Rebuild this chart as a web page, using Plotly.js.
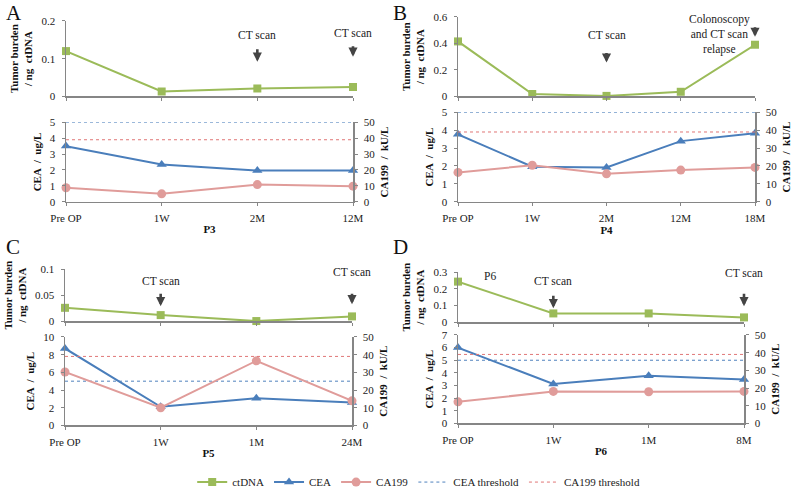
<!DOCTYPE html>
<html>
<head>
<meta charset="utf-8">
<script src="https://cdn.plot.ly/plotly-3.0.1.min.js"></script>
<style>
  html, body { margin: 0; padding: 0; background: #fff; }
  #plot { width: 793px; height: 497px; }
</style>
</head>
<body>
<div id="plot"></div>
<script>
// values
const catsP3 = ['Pre OP', '1W', '2M', '12M'];
const ctdnaP3 = [0.12, 0.013, 0.021, 0.025];
const ceaP3 = [3.5, 2.35, 1.96, 1.96];
const ca199P3 = [8.8, 5.0, 10.8, 9.8];

const catsP4 = ['Pre OP', '1W', '2M', '12M', '18M'];
const ctdnaP4 = [0.415, 0.018, 0.004, 0.035, 0.39];
const ceaP4 = [3.77, 1.96, 1.92, 3.39, 3.83];
const ca199P4 = [16.4, 20.4, 15.6, 17.7, 19.2];

const catsP5 = ['Pre OP', '1W', '1M', '24M'];
const ctdnaP5 = [0.0256, 0.0115, 0, 0.009];
const ceaP5 = [8.7, 2.1, 3.07, 2.6];
const ca199P5 = [30.2, 10.0, 36.5, 13.9];

const catsP6 = ['Pre OP', '1W', '1M', '8M'];
const ctdnaP6 = [0.244, 0.052, 0.052, 0.028];
const ceaP6 = [6.0, 3.12, 3.77, 3.48];
const ca199P6 = [12.2, 18.1, 17.9, 18.1];

const ceaThreshold = 5;
const ca199Threshold = 39;

const W = 793, H = 497;
const SERIF = 'Liberation Serif, Times New Roman, serif';
const GREEN = '#9BBB59', BLUE = '#4A7EBB', PINK = '#E09C9A';
const CEA_THR = '#4F81BD', CA_THR = '#E07676';
const AXIS = '#868686';

function px(x) { return x / W; }
function py(y) { return 1 - y / H; }
function ax(n) { return n === 1 ? 'xaxis' : 'xaxis' + n; }
function ay(n) { return n === 1 ? 'yaxis' : 'yaxis' + n; }
function rx(n) { return n === 1 ? 'x' : 'x' + n; }
function ry(n) { return n === 1 ? 'y' : 'y' + n; }

const baseAxis = {
  showline: true, linecolor: AXIS, linewidth: 1.5,
  ticks: 'outside', ticklen: 3, tickcolor: AXIS, tickwidth: 1,
  showgrid: false, zeroline: false, fixedrange: true,
  tickfont: { family: SERIF, size: 11, color: '#222' }
};
const titleFont = { family: SERIF, size: 11, color: '#111' };

const data = [];
const layout = {
  width: W, height: H,
  margin: { l: 0, r: 0, t: 0, b: 0 },
  paper_bgcolor: '#fff', plot_bgcolor: 'rgba(0,0,0,0)',
  font: { family: SERIF, color: '#222' },
  showlegend: true,
  legend: {
    orientation: 'h', x: 0.528, xanchor: 'center', y: py(485), yanchor: 'middle',
    font: { family: SERIF, size: 11, color: '#222' }, bgcolor: 'rgba(0,0,0,0)',
    itemwidth: 30, traceorder: 'normal'
  },
  annotations: []
};

function panel(k, cats, ctdna, cea, ca199, g) {
  const xt = 2 * k + 1, xb = 2 * k + 2;
  const yt = 3 * k + 1, yl = 3 * k + 2, yr = 3 * k + 3;
  const last = cats.length - 1;
  const leg = k === 0;
  const xdom = [px(g.x0), px(g.x1)];

  layout[ax(xt)] = Object.assign({}, baseAxis, {
    type: 'category', domain: xdom, anchor: ry(yt), range: [0, last],
    showticklabels: false
  });
  layout[ay(yt)] = Object.assign({}, baseAxis, {
    domain: [py(g.tb), py(g.tt)], anchor: rx(xt), range: [0, g.topMax], dtick: g.topStep,
    ticklabelstandoff: 4,
    title: { text: '<b>Tumor burden<br>/ ng  ctDNA</b>', font: titleFont, standoff: 6 }
  });
  layout[ax(xb)] = Object.assign({}, baseAxis, {
    type: 'category', domain: xdom, anchor: ry(yl), range: [0, last],
    ticklabelstandoff: 3,
    title: { text: '<b>' + g.name + '</b>', font: titleFont, standoff: 2 }
  });
  layout[ay(yl)] = Object.assign({}, baseAxis, {
    domain: [py(g.bb), py(g.bt)], anchor: rx(xb), range: [0, g.ceaMax], dtick: g.ceaStep,
    ticklabelstandoff: 4,
    title: { text: '<b>CEA  /  ug/L</b>', font: titleFont, standoff: 6 }
  });
  layout[ay(yr)] = Object.assign({}, baseAxis, {
    overlaying: ry(yl), side: 'right', anchor: rx(xb), range: [0, 50], dtick: 10,
    ticklabelstandoff: 4,
    title: { text: '<b>CA199  /  kU/L</b>', font: titleFont, standoff: 6 }
  });

  data.push({
    x: cats, y: ctdna, xaxis: rx(xt), yaxis: ry(yt), name: 'ctDNA', legendrank: 1,
    showlegend: leg, mode: 'lines+markers', cliponaxis: false,
    line: { color: GREEN, width: 2 }, marker: { symbol: 'square', size: 8, color: GREEN }
  });
  data.push({
    x: cats, y: cea, xaxis: rx(xb), yaxis: ry(yl), name: 'CEA', legendrank: 2,
    showlegend: leg, mode: 'lines+markers', cliponaxis: false,
    line: { color: BLUE, width: 2 }, marker: { symbol: 'triangle-up', size: 9, color: BLUE }
  });
  data.push({
    x: [cats[0], cats[last]], y: [ceaThreshold, ceaThreshold], xaxis: rx(xb), yaxis: ry(yl),
    name: 'CEA threshold', legendrank: 4, showlegend: leg, mode: 'lines',
    line: { color: CEA_THR, width: 1, dash: 'dot' }
  });
  data.push({
    x: cats, y: ca199, xaxis: rx(xb), yaxis: ry(yr), name: 'CA199', legendrank: 3,
    showlegend: leg, mode: 'lines+markers', cliponaxis: false,
    line: { color: PINK, width: 2 }, marker: { symbol: 'circle', size: 9, color: PINK }
  });
  data.push({
    x: [cats[0], cats[last]], y: [ca199Threshold, ca199Threshold], xaxis: rx(xb), yaxis: ry(yr),
    name: 'CA199 threshold', legendrank: 5, showlegend: leg, mode: 'lines',
    line: { color: CA_THR, width: 1, dash: 'dot' }
  });

  // panel letter
  layout.annotations.push({
    text: g.letter, xref: 'paper', yref: 'paper', x: px(g.lx), y: py(g.ly),
    xanchor: 'left', yanchor: 'middle', showarrow: false,
    font: { family: SERIF, size: 21, color: '#111' }
  });
  return { xt: rx(xt) };
}

function note(xref, x, textY, headY, len, text) {
  if (text) {
    layout.annotations.push({
      text: text, xref: xref, yref: 'paper', x: x, y: py(textY),
      xanchor: 'center', yanchor: 'middle', showarrow: false,
      font: { family: SERIF, size: 11.5, color: '#222' }
    });
  }
  layout.annotations.push({
    text: '', xref: xref, yref: 'paper', x: x, y: py(headY),
    showarrow: true, ax: 0, ay: -len, arrowhead: 2, arrowsize: 0.7,
    arrowwidth: 2.6, arrowcolor: '#444'
  });
}

const pA = panel(0, catsP3, ctdnaP3, ceaP3, ca199P3, {
  x0: 66, x1: 353, tt: 21, tb: 97, bt: 123, bb: 203,
  topMax: 0.2, topStep: 0.1, ceaMax: 5, ceaStep: 1, name: 'P3', letter: 'A', lx: 4, ly: 13
});
const pB = panel(1, catsP4, ctdnaP4, ceaP4, ca199P4, {
  x0: 458, x1: 755, tt: 17, tb: 97, bt: 113, bb: 203,
  topMax: 0.6, topStep: 0.2, ceaMax: 5, ceaStep: 1, name: 'P4', letter: 'B', lx: 391, ly: 13
});
const pC = panel(2, catsP5, ctdnaP5, ceaP5, ca199P5, {
  x0: 65, x1: 352, tt: 271, tb: 323, bt: 339, bb: 428,
  topMax: 0.1, topStep: 0.05, ceaMax: 10, ceaStep: 2, name: 'P5', letter: 'C', lx: 4, ly: 249
});
const pD = panel(3, catsP6, ctdnaP6, ceaP6, ca199P6, {
  x0: 458, x1: 744, tt: 274, tb: 324, bt: 337, bb: 426,
  topMax: 0.3, topStep: 0.1, ceaMax: 7, ceaStep: 1, name: 'P6', letter: 'D', lx: 391, ly: 249
});

note(pA.xt, '2M', 35, 62, 14, 'CT scan');
note(pA.xt, '12M', 33, 57, 12, 'CT scan');
note(pB.xt, '2M', 35, 63, 11, 'CT scan');
layout.annotations.push({
  text: 'Colonoscopy<br>and CT scan<br>relapse', xref: 'paper', yref: 'paper',
  x: px(719), y: py(35), xanchor: 'center', yanchor: 'middle', showarrow: false, align: 'center',
  font: { family: SERIF, size: 11.5, color: '#222' }
});
note(pB.xt, '18M', 0, 37, 11, null);
note(pC.xt, '1W', 283, 308, 14, 'CT scan');
note(pC.xt, '24M', 274, 306, 12, 'CT scan');
note(pD.xt, '1W', 283, 310, 14, 'CT scan');
note(pD.xt, '8M', 275, 308, 14, 'CT scan');
layout.annotations.push({
  text: 'P6', xref: 'paper', yref: 'paper', x: px(490), y: py(278),
  xanchor: 'center', yanchor: 'middle', showarrow: false,
  font: { family: SERIF, size: 11.5, color: '#222' }
});

Plotly.newPlot('plot', data, layout, { displayModeBar: false, staticPlot: true });
</script>
</body>
</html>
